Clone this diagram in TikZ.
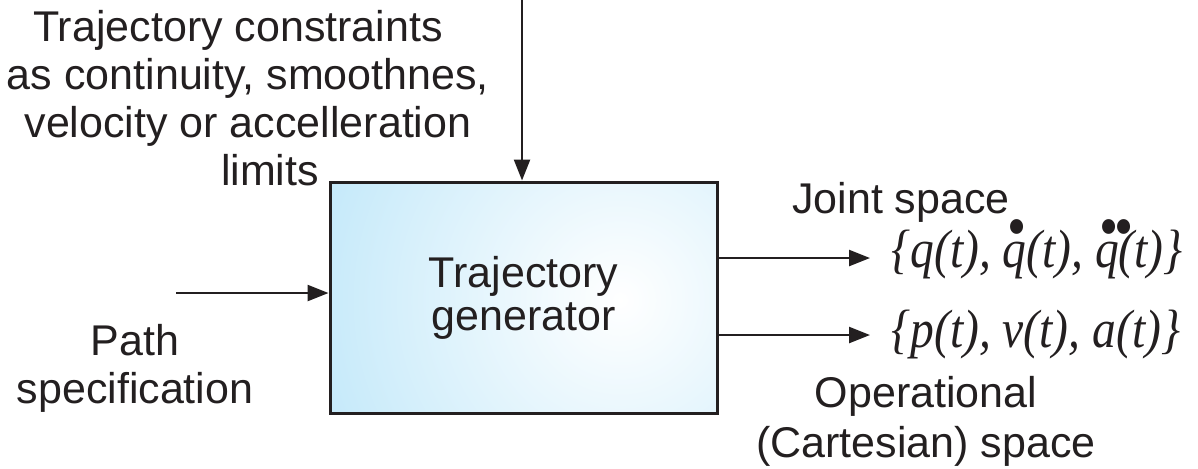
\documentclass[tikz,border=0pt]{standalone}
\usepackage{fontspec}
\usepackage{graphicx}
\setmainfont{Liberation Sans}
\newfontfamily\tms{Liberation Serif}
\usetikzlibrary{arrows.meta}
\definecolor{ink}{RGB}{35,31,32}
\definecolor{boxblue}{RGB}{140,212,244}
\newcommand{\onedot}[1]{\setbox0\hbox{#1}\rlap{\hbox to \wd0{\hfil\kern2.5pt\raisebox{9.6pt}{\fontsize{31pt}{31pt}\selectfont\upshape •}\hfil}}\box0}
\newcommand{\twodot}[1]{\setbox0\hbox{#1}\rlap{\hbox to \wd0{\hfil\kern2.5pt\raisebox{9.6pt}{\fontsize{31pt}{31pt}\selectfont\upshape •\kern-2.2pt•}\hfil}}\box0}
\begin{document}
\begin{tikzpicture}[x=0.5pt,y=-0.5pt,
  arr/.style={-{Triangle[length=10.5pt,width=8pt]}, line width=1.25pt, draw=ink},
  lbl/.style={font=\fontsize{21.5pt}{24pt}\selectfont, align=center, inner sep=0pt, text=ink},
  mth/.style={font=\fontsize{27pt}{27pt}\selectfont\tms\itshape, inner sep=0pt, text=ink}]
\useasboundingbox (0,0) rectangle (1198,468);
\begin{scope}
  \clip (330,182) rectangle (717,413);
  \shade[inner color=white, outer color=boxblue] (620,300) circle (310pt);
\end{scope}
\node[draw=ink, line width=1.5pt, minimum width=193.5pt, minimum height=115.5pt, inner sep=0pt,
      font=\fontsize{21.5pt}{21.5pt}\selectfont, align=center, text=ink] (gen) at (523.5,297.5) {Trajectory\\generator};
\node[lbl, anchor=north] (cons) at (248,10) {Trajectory constraints\hspace*{10pt}\\as continuity, smoothnes,\\velocity or accelleration\\\hspace*{22pt}limits};
\node[lbl, anchor=north] (path) at (135,324) {Path\\specification};
\node[lbl, anchor=base] (joint) at (901,213) {Joint space};
\node[mth, anchor=base west] (qset) at (891,267) {\scalebox{0.88}[1]{\{q(t), \onedot{q}(t), \twodot{q}(t)\}}};
\node[mth, anchor=base west] (pset) at (891,347) {\scalebox{0.88}[1]{\{p(t), v(t), a(t)\}}};
\node[lbl, anchor=north, font=\fontsize{21.5pt}{25pt}\selectfont] (oper) at (926,376) {Operational\\(Cartesian) space};
\coordinate (topin) at (522,0);
\coordinate (pin) at (176,293);
\coordinate (jout) at (870,258);
\coordinate (pout) at (870,335);
\draw[arr] (topin) -- (topin |- gen.north);
\draw[arr] (pin) -- (pin -| gen.west);
\draw[arr] (gen.east |- jout) -- (jout);
\draw[arr] (gen.east |- pout) -- (pout);
\end{tikzpicture}
\end{document}
